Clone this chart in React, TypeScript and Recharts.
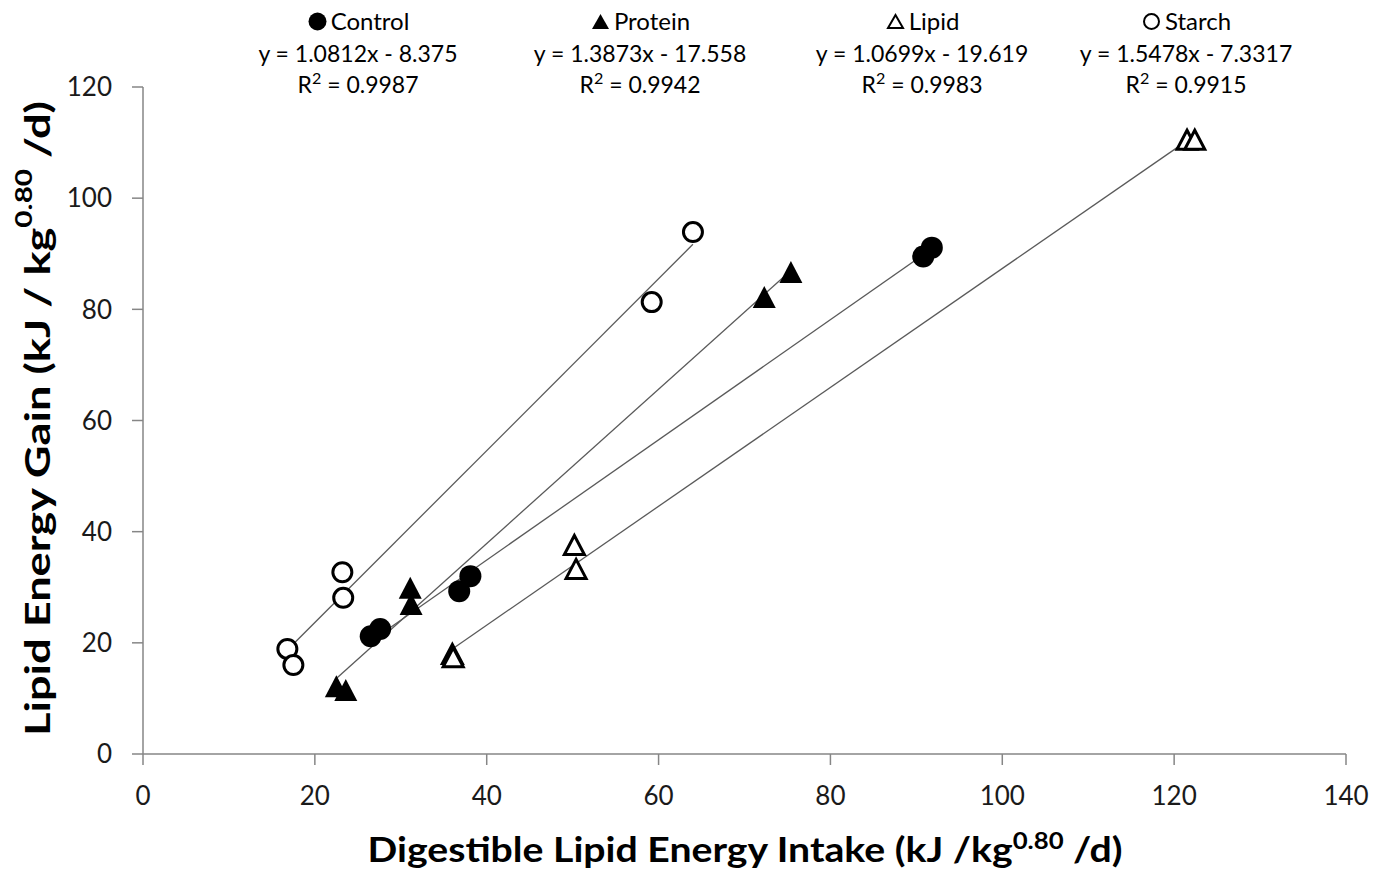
import { ScatterChart, Scatter, XAxis, YAxis } from "recharts";

const xTicks = [0, 20, 40, 60, 80, 100, 120, 140];
const yTicks = [0, 20, 40, 60, 80, 100, 120];

const control = [
  { x: 26.5, y: 21.2 },
  { x: 27.6, y: 22.5 },
  { x: 36.8, y: 29.3 },
  { x: 38.1, y: 32.0 },
  { x: 90.8, y: 89.5 },
  { x: 91.8, y: 91.1 },
];
const protein = [
  { x: 22.5, y: 12.2 },
  { x: 23.6, y: 11.5 },
  { x: 31.1, y: 29.9 },
  { x: 31.2, y: 27.0 },
  { x: 72.3, y: 82.2 },
  { x: 75.4, y: 86.7 },
];
const lipid = [
  { x: 36.0, y: 18.0 },
  { x: 36.1, y: 17.4 },
  { x: 50.2, y: 37.6 },
  { x: 50.4, y: 33.3 },
  { x: 121.5, y: 110.5 },
  { x: 122.4, y: 110.5 },
];
const starch = [
  { x: 16.8, y: 18.9 },
  { x: 17.5, y: 16.0 },
  { x: 23.2, y: 32.7 },
  { x: 23.3, y: 28.1 },
  { x: 59.2, y: 81.3 },
  { x: 64.0, y: 93.9 },
];

// trend line end points
const controlTrend = [
  { x: 26.5, y: 20.3 },
  { x: 91.8, y: 90.9 },
];
const proteinTrend = [
  { x: 22.5, y: 13.6 },
  { x: 75.4, y: 87.0 },
];
const lipidTrend = [
  { x: 36.0, y: 18.9 },
  { x: 122.4, y: 111.3 },
];
const starchTrend = [
  { x: 16.8, y: 18.7 },
  { x: 64.0, y: 91.7 },
];

const headers = [
  { name: "Control", eq: "y = 1.0812x - 8.375", r2: "0.9987", marker: "circle", filled: true, cx: 358 },
  { name: "Protein", eq: "y = 1.3873x - 17.558", r2: "0.9942", marker: "triangle", filled: true, cx: 640 },
  { name: "Lipid", eq: "y = 1.0699x - 19.619", r2: "0.9983", marker: "triangle", filled: false, cx: 922 },
  { name: "Starch", eq: "y = 1.5478x - 7.3317", r2: "0.9915", marker: "circle", filled: false, cx: 1186 },
];

const FONT = "Lato, 'Open Sans', sans-serif";
const AXIS = "#868686";
const TREND = "#5a5a5a";

const Circle = (filled: boolean) => (p: any) => (
  <circle
    cx={p.cx}
    cy={p.cy}
    r={filled ? 11 : 9.5}
    fill={filled ? "#000" : "#fff"}
    stroke="#000"
    strokeWidth={filled ? 0 : 3}
  />
);

const Tri = (filled: boolean) => (p: any) => {
  const w = filled ? 11.5 : 10;
  const h = filled ? 11 : 9.5;
  const d = `M${p.cx},${p.cy - h} L${p.cx + w},${p.cy + h} L${p.cx - w},${p.cy + h} Z`;
  return (
    <path
      d={d}
      fill={filled ? "#000" : "#fff"}
      stroke="#000"
      strokeWidth={filled ? 0 : 3}
      strokeLinejoin="miter"
    />
  );
};

const NoDot = () => <g />;

const YTitle = (props: any) => {
  const vb = props.viewBox;
  const cy = vb.y + vb.height / 2 - 2;
  return (
    <text
      x={36}
      y={cy}
      transform={`rotate(-90, 36, ${cy})`}
      textAnchor="middle"
      dominantBaseline="central"
      fontFamily={FONT}
      fontWeight={700}
      fontSize={35}
      fill="#000"
      textLength={635}
      lengthAdjust="spacingAndGlyphs"
    >
      <tspan>Lipid Energy Gain (kJ / kg</tspan>
      <tspan fontSize={23} dy={-13}>0.80</tspan>
      <tspan dy={13}> /d)</tspan>
    </text>
  );
};

const XTitle = (props: any) => {
  const vb = props.viewBox;
  return (
    <text
      x={745}
      y={vb.y + 108}
      textAnchor="middle"
      fontFamily={FONT}
      fontWeight={700}
      fontSize={35}
      fill="#000"
      textLength={755}
      lengthAdjust="spacingAndGlyphs"
    >
      <tspan>Digestible Lipid Energy Intake (kJ /kg</tspan>
      <tspan fontSize={23} dy={-13}>0.80</tspan>
      <tspan dy={13}> /d)</tspan>
    </text>
  );
};

const HeaderMarker = ({ marker, filled }: { marker: string; filled: boolean }) => (
  <svg width={21} height={21} style={{ verticalAlign: "-2px", marginRight: 3 }}>
    {marker === "circle" ? (
      <circle
        cx={10.5}
        cy={10.5}
        r={filled ? 9 : 7.5}
        fill={filled ? "#000" : "#fff"}
        stroke="#000"
        strokeWidth={filled ? 0 : 2}
      />
    ) : (
      <path
        d={filled ? "M10.5,3 L19,18 L2,18 Z" : "M10.5,4 L18,17 L3,17 Z"}
        fill={filled ? "#000" : "#fff"}
        stroke="#000"
        strokeWidth={filled ? 0 : 2}
      />
    )}
  </svg>
);

export default function App() {
  return (
    <div style={{ position: "relative", width: 1375, height: 873, background: "#fff" }}>
      <style>{"body{margin:0}"}</style>
      <ScatterChart width={1375} height={873} margin={{ top: 87, right: 29, bottom: 69, left: 83 }}>
        <XAxis
          type="number"
          dataKey="x"
          domain={[0, 140]}
          ticks={xTicks}
          interval={0}
          height={50}
          axisLine={{ stroke: AXIS, strokeWidth: 1.5 }}
          tickLine={{ stroke: AXIS, strokeWidth: 1.5 }}
          tickSize={11}
          tickMargin={22}
          tick={{ fill: "#1a1a1a", fontSize: 26, fontFamily: FONT }}
          label={{ content: XTitle }}
        />
        <YAxis
          type="number"
          dataKey="y"
          domain={[0, 120]}
          ticks={yTicks}
          interval={0}
          width={60}
          axisLine={{ stroke: AXIS, strokeWidth: 1.5 }}
          tickLine={{ stroke: AXIS, strokeWidth: 1.5 }}
          tickSize={11}
          tickMargin={20}
          tick={{ fill: "#1a1a1a", fontSize: 26, fontFamily: FONT }}
          label={{ content: YTitle }}
        />
        <Scatter data={starchTrend} line={{ stroke: TREND, strokeWidth: 1.3 }} shape={NoDot} isAnimationActive={false} />
        <Scatter data={proteinTrend} line={{ stroke: TREND, strokeWidth: 1.3 }} shape={NoDot} isAnimationActive={false} />
        <Scatter data={controlTrend} line={{ stroke: TREND, strokeWidth: 1.3 }} shape={NoDot} isAnimationActive={false} />
        <Scatter data={lipidTrend} line={{ stroke: TREND, strokeWidth: 1.3 }} shape={NoDot} isAnimationActive={false} />
        <Scatter name="Control" data={control} shape={Circle(true)} isAnimationActive={false} />
        <Scatter name="Protein" data={protein} shape={Tri(true)} isAnimationActive={false} />
        <Scatter name="Lipid" data={lipid} shape={Tri(false)} isAnimationActive={false} />
        <Scatter name="Starch" data={starch} shape={Circle(false)} isAnimationActive={false} />
      </ScatterChart>
      {headers.map((h) => (
        <div
          key={h.name}
          style={{
            position: "absolute",
            left: h.cx - 160,
            top: 4,
            width: 320,
            textAlign: "center",
            fontFamily: FONT,
            color: "#000",
          }}
        >
          <div style={{ fontSize: 24, lineHeight: "34px" }}>
            <HeaderMarker marker={h.marker} filled={h.filled} />
            {h.name}
          </div>
          <div style={{ fontSize: 23, lineHeight: "31px" }}>{h.eq}</div>
          <div style={{ fontSize: 23, lineHeight: "31px" }}>
            R<sup style={{ fontSize: "0.7em", lineHeight: 0, verticalAlign: "0.55em" }}>2</sup> = {h.r2}
          </div>
        </div>
      ))}
    </div>
  );
}
